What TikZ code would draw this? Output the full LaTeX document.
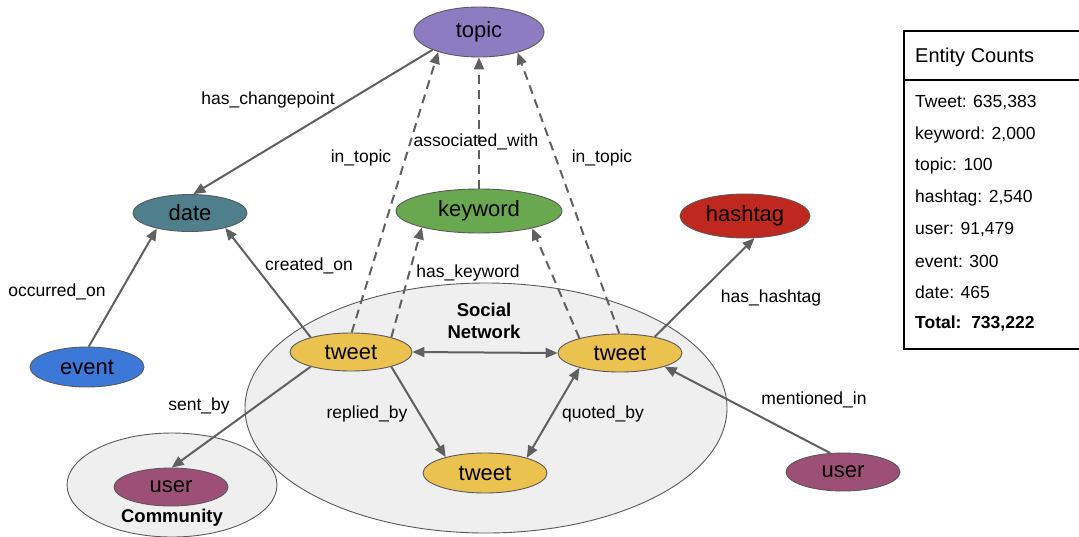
\documentclass[tikz,border=0pt]{standalone}
\usepackage{fontspec}
\setmainfont{Liberation Sans}
\usetikzlibrary{shapes.geometric,arrows.meta}

\definecolor{topicpurple}{HTML}{8E7CC3}
\definecolor{dateteal}{HTML}{4F7F8C}
\definecolor{keygreen}{HTML}{6AA84F}
\definecolor{hashred}{HTML}{C0281F}
\definecolor{eventblue}{HTML}{3C78D8}
\definecolor{tweetyellow}{HTML}{EBC24F}
\definecolor{usermagenta}{HTML}{9E4F75}
\definecolor{groupgray}{HTML}{EFEFEF}
\definecolor{nodeline}{HTML}{5A5A5A}
\definecolor{edgegray}{HTML}{606060}

\tikzset{
  entity/.style={ellipse, draw=nodeline, line width=0.9pt, inner sep=0pt,
    font=\fontsize{22}{26}\selectfont},
  group/.style={ellipse, draw=nodeline, fill=groupgray, line width=0.9pt, inner sep=0pt},
  rel/.style={draw=edgegray, line width=2pt, -{Triangle[length=12pt,width=10pt]}},
  relboth/.style={rel, {Triangle[length=12pt,width=10pt]}-{Triangle[length=12pt,width=10pt]}},
  reldash/.style={rel, dash pattern=on 9pt off 6pt},
  lbl/.style={font=\fontsize{17.5}{21}\selectfont, inner sep=0pt},
  grouplbl/.style={font=\fontsize{18.5}{22}\selectfont\bfseries, align=center, inner sep=0pt},
  cnt/.style={anchor=west, font=\fontsize{17.5}{21}\selectfont, inner sep=0pt}
}

\begin{document}
\begin{tikzpicture}[x=1pt, y=-1pt]
  \useasboundingbox (0,0) rectangle (1079,536);
  \clip (0,0) rectangle (1079,536);

  % Groups
  \node[group, minimum width=482pt, minimum height=250pt] (social) at (486,408) {};
  \node[group, minimum width=210pt, minimum height=104pt] (community) at (172,485) {};
  \node[grouplbl] (sociallbl) at (484,321) {Social\\Network};
  \node[grouplbl] (communitylbl) at (172,518) {Community};

  % Entities
  \node[entity, fill=topicpurple, minimum width=130pt, minimum height=50pt] (topic) at (479,32) {topic};
  \node[entity, fill=dateteal, minimum width=114pt, minimum height=37pt] (date) at (190,213) {date};
  \node[entity, fill=keygreen, minimum width=166pt, minimum height=44pt] (keyword) at (479,211) {keyword};
  \node[entity, fill=hashred, minimum width=130pt, minimum height=44pt] (hashtag) at (745,216) {hashtag};
  \node[entity, fill=eventblue, minimum width=114pt, minimum height=40pt] (event) at (87,367) {event};
  \node[entity, fill=tweetyellow, minimum width=122pt, minimum height=38pt] (tweetL) at (351,352) {tweet};
  \node[entity, fill=tweetyellow, minimum width=124pt, minimum height=38pt] (tweetR) at (620,353) {tweet};
  \node[entity, fill=tweetyellow, minimum width=124pt, minimum height=40pt] (tweetB) at (485,473) {tweet};
  \node[entity, fill=usermagenta, minimum width=114pt, minimum height=38pt] (userC) at (171,487) {user};
  \node[entity, fill=usermagenta, minimum width=114pt, minimum height=38pt] (userR) at (843,472) {user};

  % Relations
  \draw[rel] (topic.201) -- (date.80);
  \draw[rel] (event.85) -- (date.205);
  \draw[rel] (tweetL.160) -- (date.337);
  \draw[reldash] (tweetL.88) -- (topic.206);
  \draw[reldash] (tweetL.20) -- (keyword.196);
  \draw[reldash] (keyword.north) -- (topic.south);
  \draw[reldash] (tweetR.160) -- (keyword.342);
  \draw[reldash] (tweetR.92) -- (topic.332);
  \draw[rel] (tweetR.25) -- (hashtag.293);
  \draw[relboth] (tweetL.east) -- (tweetR.west);
  \draw[rel] (tweetL.340) -- (tweetB.158);
  \draw[relboth] (tweetB.20) -- (tweetR.200);
  \draw[rel] (userR.124) -- (tweetR.343);
  \draw[rel] (tweetL.200) -- (userC.88);

  % Relation labels
  \node[lbl] (lchange) at (268,100) {has\_changepoint};
  \node[lbl] (loccur) at (57,292) {occurred\_on};
  \node[lbl] (lcreated) at (309,266) {created\_on};
  \node[lbl] (ltopicL) at (361,158) {in\_topic};
  \node[lbl] (lassoc) at (476,142) {associated\_with};
  \node[lbl] (ltopicR) at (602,158) {in\_topic};
  \node[lbl] (lkeyword) at (468,273) {has\_keyword};
  \node[lbl] (lhashtag) at (771,298) {has\_hashtag};
  \node[lbl] (lsent) at (199,406) {sent\_by};
  \node[lbl] (lreplied) at (367,414) {replied\_by};
  \node[lbl] (lquoted) at (603,414) {quoted\_by};
  \node[lbl] (lmention) at (814,400) {mentioned\_in};

  % Entity counts
  \node[draw=black, line width=1.5pt, minimum width=190pt, minimum height=318pt,
    anchor=north west, inner sep=0pt] (counts) at (903,30) {};
  \draw[line width=1.2pt] (903,80) -- (1090,80);
  \node[anchor=west, font=\fontsize{20}{24}\selectfont, inner sep=0pt] (countshead) at (915,57) {Entity Counts};
  \foreach \txt [count=\i] in {{Tweet: 635,383},{keyword: 2,000},{topic: 100},{hashtag: 2,540},
      {user: 91,479},{event: 300},{date: 465}}
    \node[cnt] (count\i) at (915,{103+(\i-1)*31.6}) {\txt};
  \node[cnt] (counttotal) at (915,324) {\textbf{Total:\ \ 733,222}};
\end{tikzpicture}
\end{document}
